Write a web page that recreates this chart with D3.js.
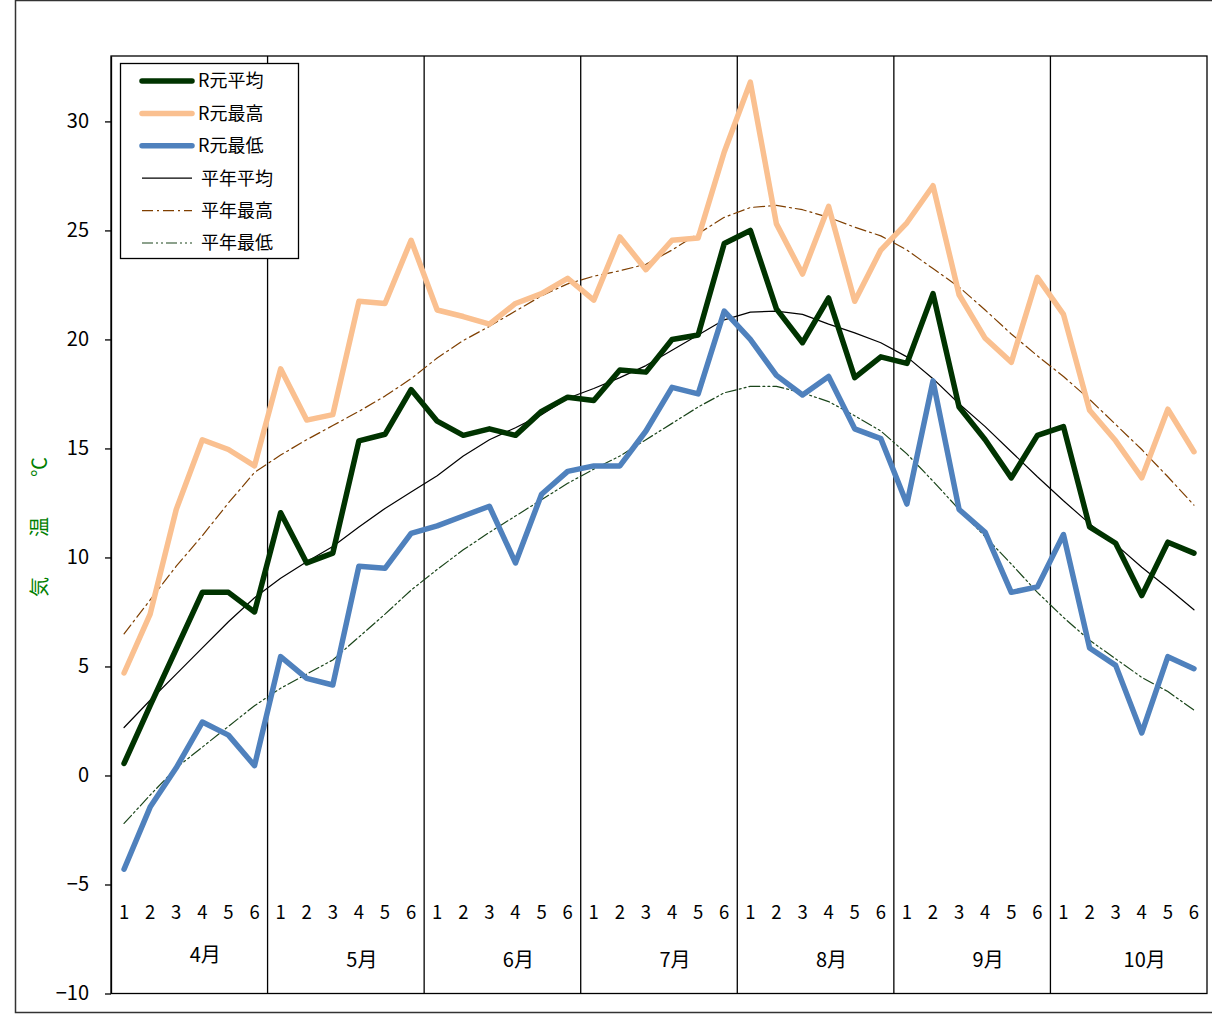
<!DOCTYPE html>
<html><head><meta charset="utf-8">
<script src="https://cdn.jsdelivr.net/npm/d3@7"></script>
<style>html,body{margin:0;padding:0;background:#fff;}svg{display:block;}text{font-family:"Noto Sans CJK JP","Noto Sans",sans-serif;}</style>
</head><body>
<script>
const months = ["4月","5月","6月","7月","8月","9月","10月"];
const pentads = ["1","2","3","4","5","6"];
const yTicks = [-10,-5,0,5,10,15,20,25,30];
const yTickLabels = ["−10","−5","0","5","10","15","20","25","30"];
const seriesNames = ["R元平均","R元最高","R元最低","平年平均","平年最高","平年最低"];

const r1Avg = [0.55,3.2,5.8,8.4,8.4,7.5, 12.05,9.75,10.2,15.35,15.65,17.7, 16.25,15.6,15.9,15.6,16.7,17.35, 17.2,18.6,18.5,20.0,20.2,24.4, 25.0,21.4,19.85,21.9,18.25,19.2, 18.9,22.1,16.9,15.4,13.65,15.6, 16.0,11.4,10.65,8.25,10.7,10.2];
const r1Max = [4.7,7.4,12.2,15.4,14.95,14.2, 18.65,16.3,16.55,21.75,21.65,24.55, 21.35,21.05,20.7,21.65,22.1,22.8, 21.8,24.7,23.2,24.55,24.65,28.6, 31.8,25.3,23.0,26.1,21.75,24.1, 25.35,27.05,22.05,20.05,18.95,22.85, 21.15,16.75,15.35,13.65,16.8,14.85];
const r1Min = [-4.3,-1.45,0.35,2.45,1.85,0.45, 5.45,4.45,4.15,9.6,9.5,11.1, 11.45,11.9,12.35,9.75,12.9,13.95, 14.2,14.2,15.8,17.8,17.5,21.3, 20.0,18.35,17.45,18.3,15.9,15.45, 12.45,18.1,12.2,11.15,8.4,8.65, 11.05,5.85,5.05,1.95,5.45,4.9];
const normAvg = [2.2,3.45,4.65,5.85,7.05,8.15, 9.05,9.8,10.5,11.4,12.25,13.0, 13.75,14.65,15.4,15.95,16.55,17.3, 17.75,18.25,18.8,19.5,20.2,20.9, 21.25,21.3,21.15,20.7,20.3,19.85, 19.2,18.2,17.05,16.0,14.85,13.7, 12.6,11.55,10.6,9.55,8.6,7.6];
const normMax = [6.5,8.05,9.6,11.0,12.5,13.9, 14.7,15.4,16.05,16.7,17.4,18.2, 19.15,19.95,20.6,21.3,22.0,22.55, 22.9,23.15,23.45,24.1,24.85,25.6, 26.05,26.15,25.95,25.6,25.15,24.75, 24.1,23.25,22.4,21.35,20.25,19.25, 18.3,17.25,16.1,14.95,13.7,12.4];
const normMin = [-2.2,-0.9,0.35,1.3,2.25,3.2, 4.0,4.65,5.3,6.35,7.4,8.5, 9.45,10.35,11.15,11.9,12.65,13.4, 14.05,14.65,15.4,16.15,16.9,17.55, 17.85,17.85,17.55,17.15,16.5,15.8, 14.75,13.5,12.2,10.95,9.7,8.4, 7.25,6.2,5.35,4.5,3.85,3.0];

const W = 1212, H = 1014;
const L = 111, R = 1207, T = 56, B = 993.5;
const svg = d3.select("body").append("svg").attr("width", W).attr("height", H);

// outer chart border
svg.append("rect").attr("x",15.5).attr("y",0.5).attr("width",1220).attr("height",1012)
  .attr("fill","#fff").attr("stroke","#333").attr("stroke-width",1.5);

const cats = d3.range(months.length * pentads.length);
const x = d3.scalePoint().domain(cats).range([L, R]).padding(0.5);
const step = x.step();
const y = d3.scaleLinear().domain([-10, 33]).range([B, T]);

// plot area frame
svg.append("rect").attr("x",L).attr("y",T).attr("width",R-L).attr("height",B-T)
  .attr("fill","none").attr("stroke","#000").attr("stroke-width",1.3);

// month separators
months.forEach((m,i)=>{
  if(i===0) return;
  const xx = L + step*6*i;
  svg.append("line").attr("x1",xx).attr("x2",xx).attr("y1",T).attr("y2",B)
    .attr("stroke","#000").attr("stroke-width",1.3);
});

// y axis
const yAxis = d3.axisLeft(y).tickValues(yTicks).tickSizeInner(6).tickSizeOuter(0).tickPadding(16)
  .tickFormat((d,i)=>yTickLabels[i]);
const gy = svg.append("g").attr("transform",`translate(${L},0)`).call(yAxis);
gy.select(".domain").attr("stroke","#000").attr("stroke-width",1.3);
gy.selectAll(".tick line").attr("stroke","#000").attr("stroke-width",1.3);
gy.selectAll(".tick text").attr("font-size",20).attr("fill","#000")
  .attr("font-family",'"Noto Sans CJK JP",sans-serif');

// category labels
cats.forEach(i=>{
  svg.append("text").attr("x",x(i)).attr("y",y(-6.3)).attr("dy","0.35em")
    .attr("text-anchor","middle").attr("font-size",18.5).text(pentads[i%6]);
});
months.forEach((m,i)=>{
  const cx = L + step*6*(i+0.5) + 16;
  svg.append("text").attr("x",cx).attr("y",i===0?955:960).attr("dy","0.35em")
    .attr("text-anchor","middle").attr("font-size",20).text(m);
});

// y axis title
svg.append("text").attr("transform","translate(40,527) rotate(-90)")
  .attr("text-anchor","middle").attr("dy","0.35em").attr("font-size",20)
  .attr("fill","#008000").text("気　　温　　℃");

// series
const series = [
  {name:seriesNames[3], data:normAvg, color:"#000000", width:1.2, dash:null},
  {name:seriesNames[4], data:normMax, color:"#7f3f00", width:1.2, dash:"11,4,2,4"},
  {name:seriesNames[5], data:normMin, color:"#1a451a", width:1.2, dash:"11,3,2,3,2,3"},
  {name:seriesNames[1], data:r1Max, color:"#fac090", width:5.5, dash:null},
  {name:seriesNames[2], data:r1Min, color:"#4f81bd", width:5.5, dash:null},
  {name:seriesNames[0], data:r1Avg, color:"#003300", width:5.5, dash:null},
];
const line = d3.line().x((d,i)=>x(i)).y(d=>y(d));
series.forEach(s=>{
  svg.append("path").datum(s.data).attr("d",line).attr("fill","none")
    .attr("stroke",s.color).attr("stroke-width",s.width)
    .attr("stroke-linejoin","round").attr("stroke-linecap","round")
    .attr("stroke-dasharray",s.dash);
});

// legend
const lg = svg.append("g");
lg.append("rect").attr("x",120.5).attr("y",63.5).attr("width",178).attr("height",195)
  .attr("fill","#fff").attr("stroke","#000").attr("stroke-width",1.3);
const legendOrder = [5,3,4,0,1,2];
legendOrder.forEach((si,k)=>{
  const s = series[si];
  const yy = 81 + k*32.4;
  lg.append("line").attr("x1",142).attr("x2",192).attr("y1",yy).attr("y2",yy)
    .attr("stroke",s.color).attr("stroke-width",s.width)
    .attr("stroke-linecap",s.width>3?"round":"butt").attr("stroke-dasharray",s.dash);
  lg.append("text").attr("x",k<3?198:201).attr("y",yy).attr("dy","0.35em")
    .attr("font-size",18).text(s.name);
});
</script>
</body></html>
